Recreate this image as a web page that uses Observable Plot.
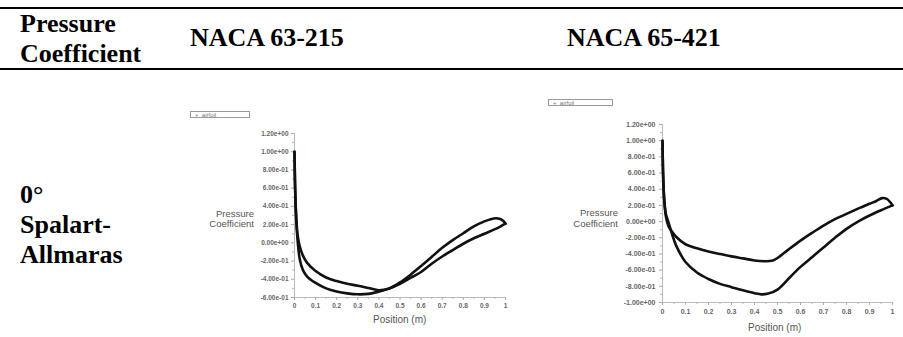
<!DOCTYPE html>
<html>
<head>
<meta charset="utf-8">
<script src="https://cdn.jsdelivr.net/npm/d3@7"></script>
<script src="https://cdn.jsdelivr.net/npm/@observablehq/plot@0.6"></script>
<style>
  html, body { margin: 0; padding: 0; background: #fff; }
  #page { position: relative; width: 903px; height: 337px; overflow: hidden;
          font-family: "Liberation Serif", "Times New Roman", serif; font-weight: bold; color: #000; }
  .rule { position: absolute; left: 0; width: 903px; height: 2px; background: #000; }
  .hd { position: absolute; font-size: 26px; line-height: 30px; white-space: nowrap; }
  .chart { position: absolute; }
  .lbl { position: absolute; font-family: Arial, "Liberation Sans", sans-serif; font-weight: normal;
         color: #555; white-space: nowrap; }
  .legend { position: absolute; border: 1px solid #999; background: #fff;
            font-family: Arial, "Liberation Sans", sans-serif; font-weight: normal; color: #777;
            font-size: 6px; line-height: 6px; padding-left: 4px; box-sizing: border-box; }
</style>
</head>
<body>
<div id="page">
  <div class="rule" style="top:7px"></div>
  <div class="rule" style="top:68px"></div>
  <div class="hd" style="left:20px; top:9px">Pressure<br>Coefficient</div>
  <div class="hd" style="left:190px; top:23px">NACA 63-215</div>
  <div class="hd" style="left:567px; top:23px">NACA 65-421</div>
  <div class="hd" style="left:20px; top:180px">0°<br>Spalart-<br>Allmaras</div>

  <div class="legend" style="left:190px; top:111px; width:60px; height:7px;">+&nbsp; airfoil</div>
  <div class="legend" style="left:548px; top:99px; width:65px; height:7px;">+&nbsp; airfoil</div>

  <div id="c1" class="chart" style="left:170px; top:105px"></div>
  <div id="c2" class="chart" style="left:540px; top:90px"></div>

  <div class="lbl" style="left:204px; top:209px; font-size:9.5px; line-height:10px; text-align:right; width:50px">Pressure<br>Coefficient</div>
  <div class="lbl" style="left:568px; top:207px; font-size:9.5px; line-height:11px; text-align:right; width:50px">Pressure<br>Coefficient</div>
  <div class="lbl" style="left:373px; top:314px; font-size:10px">Position (m)</div>
  <div class="lbl" style="left:748px; top:322px; font-size:10px">Position (m)</div>
</div>
<script>
// ---------- Data: NACA 63-215 (0°, Spalart-Allmaras) ----------
const naca63_curveA_x  = [0, 0.003, 0.008, 0.015, 0.025, 0.04, 0.06, 0.1, 0.15, 0.2, 0.25, 0.3, 0.35, 0.4, 0.45, 0.5, 0.55, 0.6, 0.65, 0.7, 0.75, 0.8, 0.85, 0.9, 0.93, 0.955, 0.975, 0.99, 1.0];
const naca63_curveA_cp = [1.0, 0.6, 0.25, 0.02, -0.18, -0.3, -0.37, -0.44, -0.5, -0.535, -0.555, -0.565, -0.56, -0.535, -0.5, -0.435, -0.35, -0.255, -0.155, -0.055, 0.03, 0.105, 0.18, 0.235, 0.26, 0.27, 0.262, 0.24, 0.21];
const naca63_curveB_x  = [0, 0.003, 0.008, 0.015, 0.025, 0.04, 0.06, 0.1, 0.15, 0.2, 0.25, 0.3, 0.35, 0.4, 0.45, 0.5, 0.55, 0.6, 0.65, 0.7, 0.75, 0.8, 0.85, 0.9, 0.95, 0.98, 1.0];
const naca63_curveB_cp = [1.0, 0.6, 0.3, 0.08, -0.04, -0.14, -0.22, -0.31, -0.38, -0.42, -0.45, -0.47, -0.495, -0.52, -0.5, -0.45, -0.385, -0.32, -0.23, -0.15, -0.08, -0.01, 0.05, 0.1, 0.15, 0.185, 0.21];

// ---------- Data: NACA 65-421 (0°, Spalart-Allmaras) ----------
const naca65_curveU_x  = [0, 0.003, 0.008, 0.015, 0.025, 0.04, 0.06, 0.1, 0.15, 0.2, 0.25, 0.3, 0.35, 0.4, 0.45, 0.48, 0.5, 0.55, 0.6, 0.65, 0.7, 0.75, 0.8, 0.85, 0.9, 0.93, 0.955, 0.975, 0.99, 1.0];
const naca65_curveU_cp = [1.0, 0.55, 0.25, 0.06, -0.05, -0.12, -0.19, -0.28, -0.33, -0.37, -0.4, -0.43, -0.455, -0.48, -0.49, -0.48, -0.45, -0.34, -0.235, -0.14, -0.05, 0.03, 0.095, 0.16, 0.22, 0.255, 0.29, 0.28, 0.24, 0.2];
const naca65_curveL_x  = [0, 0.003, 0.008, 0.015, 0.025, 0.04, 0.06, 0.1, 0.15, 0.2, 0.25, 0.3, 0.35, 0.4, 0.43, 0.46, 0.5, 0.55, 0.6, 0.65, 0.7, 0.75, 0.8, 0.85, 0.9, 0.95, 1.0];
const naca65_curveL_cp = [1.0, 0.55, 0.25, 0.09, 0.0, -0.14, -0.3, -0.5, -0.63, -0.71, -0.77, -0.81, -0.85, -0.885, -0.9, -0.89, -0.84, -0.7, -0.56, -0.44, -0.32, -0.2, -0.09, 0.0, 0.075, 0.14, 0.2];

// ---------- Tick values ----------
const xTicks = [0, 0.1, 0.2, 0.3, 0.4, 0.5, 0.6, 0.7, 0.8, 0.9, 1];
const xMinor = [0.05, 0.15, 0.25, 0.35, 0.45, 0.55, 0.65, 0.75, 0.85, 0.95];
const yTicks1 = [1.2, 1.0, 0.8, 0.6, 0.4, 0.2, 0, -0.2, -0.4, -0.6];
const yMinor1 = [1.1, 0.9, 0.7, 0.5, 0.3, 0.1, -0.1, -0.3, -0.5];
const yTicks2 = [1.2, 1.0, 0.8, 0.6, 0.4, 0.2, 0, -0.2, -0.4, -0.6, -0.8, -1.0];
const yMinor2 = [1.1, 0.9, 0.7, 0.5, 0.3, 0.1, -0.1, -0.3, -0.5, -0.7, -0.9];

const fmtE = d => {
  const [m, e] = d.toExponential(2).split("e");
  const n = +e;
  return `${m}e${n < 0 ? "-" : "+"}${String(Math.abs(n)).padStart(2, "0")}`;
};
const fmtX = d => String(d);

function toRows(xs, ys, surface) {
  return xs.map((x, i) => ({x, cp: ys[i], surface}));
}

function chart({curves, yDomain, yTicks, yMinor, width, height, mL, mR, mT, mB, fs, tickPad}) {
  const data = curves.flat();
  return Plot.plot({
    width, height,
    marginLeft: mL, marginRight: mR, marginTop: mT, marginBottom: mB,
    x: {domain: [0, 1]},
    y: {domain: yDomain},
    style: {background: "transparent", fontFamily: "Arial, 'Liberation Sans', sans-serif", fontSize: fs + "px", color: "#666"},
    marks: [
      Plot.ruleX([0], {stroke: "#bbb", strokeWidth: 1}),
      Plot.ruleY([yDomain[0]], {stroke: "#bbb", strokeWidth: 1}),
      Plot.axisY(yTicks, {tickFormat: fmtE, tickSize: 3, tickPadding: tickPad, stroke: "#aaa", fill: "#666", label: null}),
      Plot.axisY(yMinor, {tickSize: 2, tickFormat: () => "", stroke: "#bbb", label: null}),
      Plot.axisX(xTicks, {tickFormat: fmtX, tickSize: 3, tickPadding: tickPad, stroke: "#aaa", fill: "#666", label: null}),
      Plot.axisX(xMinor, {tickSize: 2, tickFormat: () => "", stroke: "#bbb", label: null}),
      Plot.line(data, {x: "x", y: "cp", z: "surface", stroke: "#111", strokeWidth: 2.6, curve: "catmull-rom"})
    ]
  });
}

document.getElementById("c1").append(chart({
  curves: [toRows(naca63_curveA_x, naca63_curveA_cp, "A"), toRows(naca63_curveB_x, naca63_curveB_cp, "B")],
  yDomain: [-0.6, 1.2], yTicks: yTicks1, yMinor: yMinor1,
  width: 345, height: 225, mL: 124, mR: 10, mT: 28, mB: 33, fs: 6.5, tickPad: 3
}));
document.getElementById("c2").append(chart({
  curves: [toRows(naca65_curveU_x, naca65_curveU_cp, "U"), toRows(naca65_curveL_x, naca65_curveL_cp, "L")],
  yDomain: [-1.0, 1.2], yTicks: yTicks2, yMinor: yMinor2,
  width: 363, height: 247, mL: 122, mR: 11, mT: 34, mB: 35, fs: 7, tickPad: 4
}));
</script>
</body>
</html>
